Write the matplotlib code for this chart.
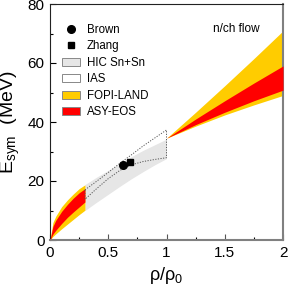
import matplotlib
matplotlib.use("Agg")
import matplotlib.pyplot as plt
from matplotlib.lines import Line2D
from matplotlib.patches import Patch

plt.rcParams['font.family'] = ['Liberation Sans', 'DejaVu Sans']
plt.rcParams['mathtext.fontset'] = 'custom'
plt.rcParams['mathtext.rm'] = 'Liberation Sans'
plt.rcParams['mathtext.it'] = 'Liberation Sans'

# ASY-EOS / FOPI-LAND bands, low density part
rho_lo = [0, 0.025, 0.05, 0.1, 0.15, 0.2, 0.25, 0.3]
fopi_soft_lo = [0, 5.9, 8.1, 11.3, 13.6, 15.6, 17.4, 18.7]
asy_soft_lo = [0, 4.6, 6.7, 9.7, 12.1, 14.2, 16.0, 17.4]
asy_stiff_lo = [0, 2.0, 3.3, 5.6, 7.7, 9.5, 11.2, 12.9]
fopi_stiff_lo = [0, 1.2, 2.1, 3.8, 5.4, 7.0, 8.6, 10.1]

# high density part (n/ch flow)
rho_hi = [1.0, 1.25, 1.5, 1.75, 2.0]
fopi_soft_hi = [34.5, 38.6, 42.4, 45.8, 49.0]
asy_soft_hi = [34.5, 39.1, 43.3, 47.2, 50.8]
asy_stiff_hi = [34.5, 41.0, 47.2, 53.2, 59.0]
fopi_stiff_hi = [34.5, 43.3, 52.3, 61.5, 70.9]

# HIC Sn+Sn band
rho_hic = [0.3, 0.4, 0.5, 0.6, 0.7, 0.8, 0.9, 1.0]
hic_top = [18.8, 21.3, 23.6, 26.0, 28.3, 30.4, 32.3, 34.2]
hic_bot = [10.0, 12.8, 15.5, 18.2, 20.8, 23.2, 25.5, 27.6]

# IAS band
rho_ias = [0.3, 0.4, 0.5, 0.6, 0.7, 0.8, 0.9, 1.0]
ias_top = [17.0, 19.9, 22.9, 26.0, 28.9, 31.9, 34.6, 37.3]
ias_bot = [13.8, 17.4, 20.8, 23.6, 25.5, 26.6, 27.3, 27.9]

# points
brown_rho, brown_e = [0.63], [25.5]
zhang_rho, zhang_e = [0.69], [26.6]

xticks = [0, 0.5, 1, 1.5, 2]
xticklabels = ['0', '0.5', '1', '1.5', '2']
yticks = [0, 20, 40, 60, 80]
yticklabels = ['0', '20', '40', '60', '80']

gold = '#FFCC00'
red = '#FF0000'

fig = plt.figure(figsize=(2.88, 2.89), dpi=100)
ax = fig.add_axes([50 / 288, 1 - 240 / 289, 233 / 288, 236 / 289])

ax.fill_between(rho_hic, hic_bot, hic_top, color='#e6e6e6', lw=0, zorder=1)

ax.fill_between(rho_lo, fopi_stiff_lo, fopi_soft_lo, color=gold, lw=0, zorder=2)
ax.fill_between(rho_lo, asy_stiff_lo, asy_soft_lo, color=red, lw=0, zorder=3)
ax.fill_between(rho_hi, fopi_soft_hi, fopi_stiff_hi, color=gold, lw=0, zorder=2)
ax.fill_between(rho_hi, asy_soft_hi, asy_stiff_hi, color=red, lw=0, zorder=3)

# IAS outline
ias_x = rho_ias + rho_ias[::-1] + [rho_ias[0]]
ias_y = ias_top + ias_bot[::-1] + [ias_top[0]]
ax.plot(ias_x, ias_y, color='#555555', lw=0.7, ls=(0, (1.2, 1.5)), zorder=4)

ax.plot(brown_rho, brown_e, 'o', color='black', ms=5.5, zorder=5)
ax.plot(zhang_rho, zhang_e, 's', color='black', ms=5, zorder=5)

ax.text(1.8, 71.5, 'n/ch flow', fontsize=8.5, ha='right', va='center')

ax.set_xlim(0, 2)
ax.set_ylim(0, 80)
ax.set_xticks(xticks)
ax.set_xticklabels(xticklabels)
ax.set_yticks(yticks)
ax.set_yticklabels(yticklabels)
ax.set_xticks([0.25, 0.75, 1.25, 1.75], minor=True)
ax.set_yticks([10, 30, 50, 70], minor=True)
ax.tick_params(which='major', direction='in', length=4.5, width=0.8, labelsize=11, pad=4)
ax.tick_params(which='minor', direction='in', length=2.5, width=0.8)
ax.tick_params(axis='x', colors='#555555', labelcolor='black')

ax.spines['left'].set_color('#222222')
ax.spines['top'].set_color('#222222')
ax.spines['bottom'].set_color('#808080')
ax.spines['right'].set_color('#808080')
ax.spines['bottom'].set_linewidth(1.5)
ax.spines['right'].set_linewidth(1.5)

ax.set_xlabel(r'$\mathregular{\rho/\rho_0}$', fontsize=13, labelpad=4)
ax.set_ylabel(r'$\mathregular{E_{sym}}$  (MeV)', fontsize=14, labelpad=4)

handles = [
    Line2D([], [], marker='o', ls='none', color='black', ms=5.5),
    Line2D([], [], marker='s', ls='none', color='black', ms=5),
    Patch(facecolor='#e6e6e6', edgecolor='#888888', lw=0.7),
    Patch(facecolor='white', edgecolor='#888888', lw=0.7),
    Patch(facecolor=gold, edgecolor='#888888', lw=0.7),
    Patch(facecolor=red, edgecolor='#888888', lw=0.7),
]
labels = ['Brown', 'Zhang', 'HIC Sn+Sn', 'IAS', 'FOPI-LAND', 'ASY-EOS']
ax.legend(handles, labels, loc='upper left', bbox_to_anchor=(0.053, 0.915),
          frameon=False, fontsize=8.3, handlelength=1.5, handleheight=0.7,
          handletextpad=0.6, labelspacing=0.38, borderaxespad=0, borderpad=0)

fig.savefig('out.png', dpi=100)
